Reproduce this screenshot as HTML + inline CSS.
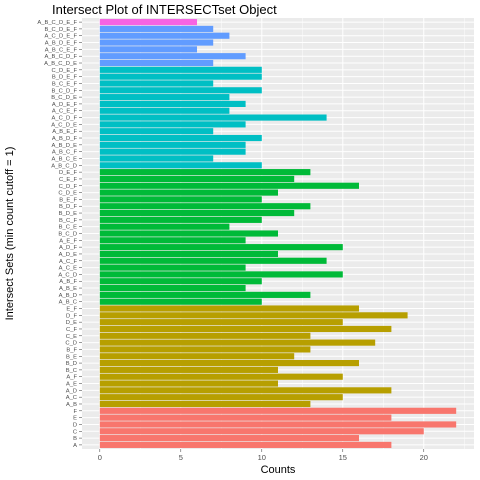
<!DOCTYPE html>
<html><head><meta charset="utf-8"><style>
html,body{margin:0;padding:0;background:#fff;}
svg{display:block;font-family:"Liberation Sans",sans-serif;}
</style></head><body>
<svg id="chart" width="480" height="480"></svg>
<script>
const categories=["A","B","C","D","E","F",
"A_B","A_C","A_D","A_E","A_F","B_C","B_D","B_E","B_F","C_D","C_E","C_F","D_E","D_F","E_F",
"A_B_C","A_B_D","A_B_E","A_B_F","A_C_D","A_C_E","A_C_F","A_D_E","A_D_F","A_E_F","B_C_D","B_C_E","B_C_F","B_D_E","B_D_F","B_E_F","C_D_E","C_D_F","C_E_F","D_E_F",
"A_B_C_D","A_B_C_E","A_B_C_F","A_B_D_E","A_B_D_F","A_B_E_F","A_C_D_E","A_C_D_F","A_C_E_F","A_D_E_F","B_C_D_E","B_C_D_F","B_C_E_F","B_D_E_F","C_D_E_F",
"A_B_C_D_E","A_B_C_D_F","A_B_C_E_F","A_B_D_E_F","A_C_D_E_F","B_C_D_E_F",
"A_B_C_D_E_F"];
const counts=[18,16,20,22,18,22,
13,15,18,11,15,11,16,12,13,17,13,18,15,19,16,
10,13,9,10,15,9,14,11,15,9,11,8,10,12,13,10,11,16,12,13,
10,7,9,9,10,7,9,14,8,9,8,10,7,10,10,
7,9,6,7,8,7,
6];
const xTicks=[0,5,10,15,20];
const palette=["#F8766D","#B79F00","#00BA38","#00BFC4","#619CFF","#F564E3"];
const NS="http://www.w3.org/2000/svg";
const svg=document.getElementById("chart");
function mk(t,a,p){const e=document.createElementNS(NS,t);for(const k in a)e.setAttribute(k,a[k]);(p||svg).appendChild(e);return e;}
const L=82,R=474,T=18,B=449;
const xMin=-1.1,xMax=23.1;
const xs=v=>L+(v-xMin)/(xMax-xMin)*(R-L);
const n=categories.length;
const band=(B-T)/(n+0.2);
const yc=i=>B-band*(0.6+i);
const panel=mk("rect",{x:L,y:T,width:R-L,height:B-T,fill:"#EBEBEB"});


for(let v=2.5;v<=22.5;v+=5){mk("line",{x1:xs(v),x2:xs(v),y1:T,y2:B,stroke:"#fff","stroke-width":0.5});}
xTicks.forEach(v=>{mk("line",{x1:xs(v),x2:xs(v),y1:T,y2:B,stroke:"#fff","stroke-width":1});});
categories.forEach((c,i)=>{mk("line",{x1:L,x2:R,y1:yc(i),y2:yc(i),stroke:"#fff","stroke-width":1});});
categories.forEach((c,i)=>{
 const k=c.split("_").length-1;
 const r=mk("rect",{x:xs(0),y:yc(i)-band*0.45,width:xs(counts[i])-xs(0),height:band*0.9,fill:palette[k]});
 
 
 const t=mk("text",{x:L-5,y:yc(i)+2,"text-anchor":"end","font-size":5.8,fill:"#4D4D4D"});
 t.textContent=c;
 
 
 mk("line",{x1:L-3,x2:L,y1:yc(i),y2:yc(i),stroke:"#333","stroke-width":0.5});
});
xTicks.forEach(v=>{
 mk("line",{x1:xs(v),x2:xs(v),y1:B,y2:B+3,stroke:"#333","stroke-width":0.5});
 const t=mk("text",{x:xs(v),y:B+11,"text-anchor":"middle","font-size":7.5,fill:"#4D4D4D"});
 t.textContent=v;
 
 
});
const xt=mk("text",{x:(L+R)/2,y:473,"text-anchor":"middle","font-size":11,fill:"#000"});
xt.textContent="Counts";


const yt=mk("text",{x:0,y:0,"text-anchor":"middle","font-size":11,fill:"#000",transform:"translate(13,"+((T+B)/2)+") rotate(-90)"});
yt.textContent="Intersect Sets (min count cutoff = 1)";


const ti=mk("text",{x:52,y:14,"font-size":13,fill:"#000"});
ti.textContent="Intersect Plot of INTERSECTset Object";


</script>
</body></html>
